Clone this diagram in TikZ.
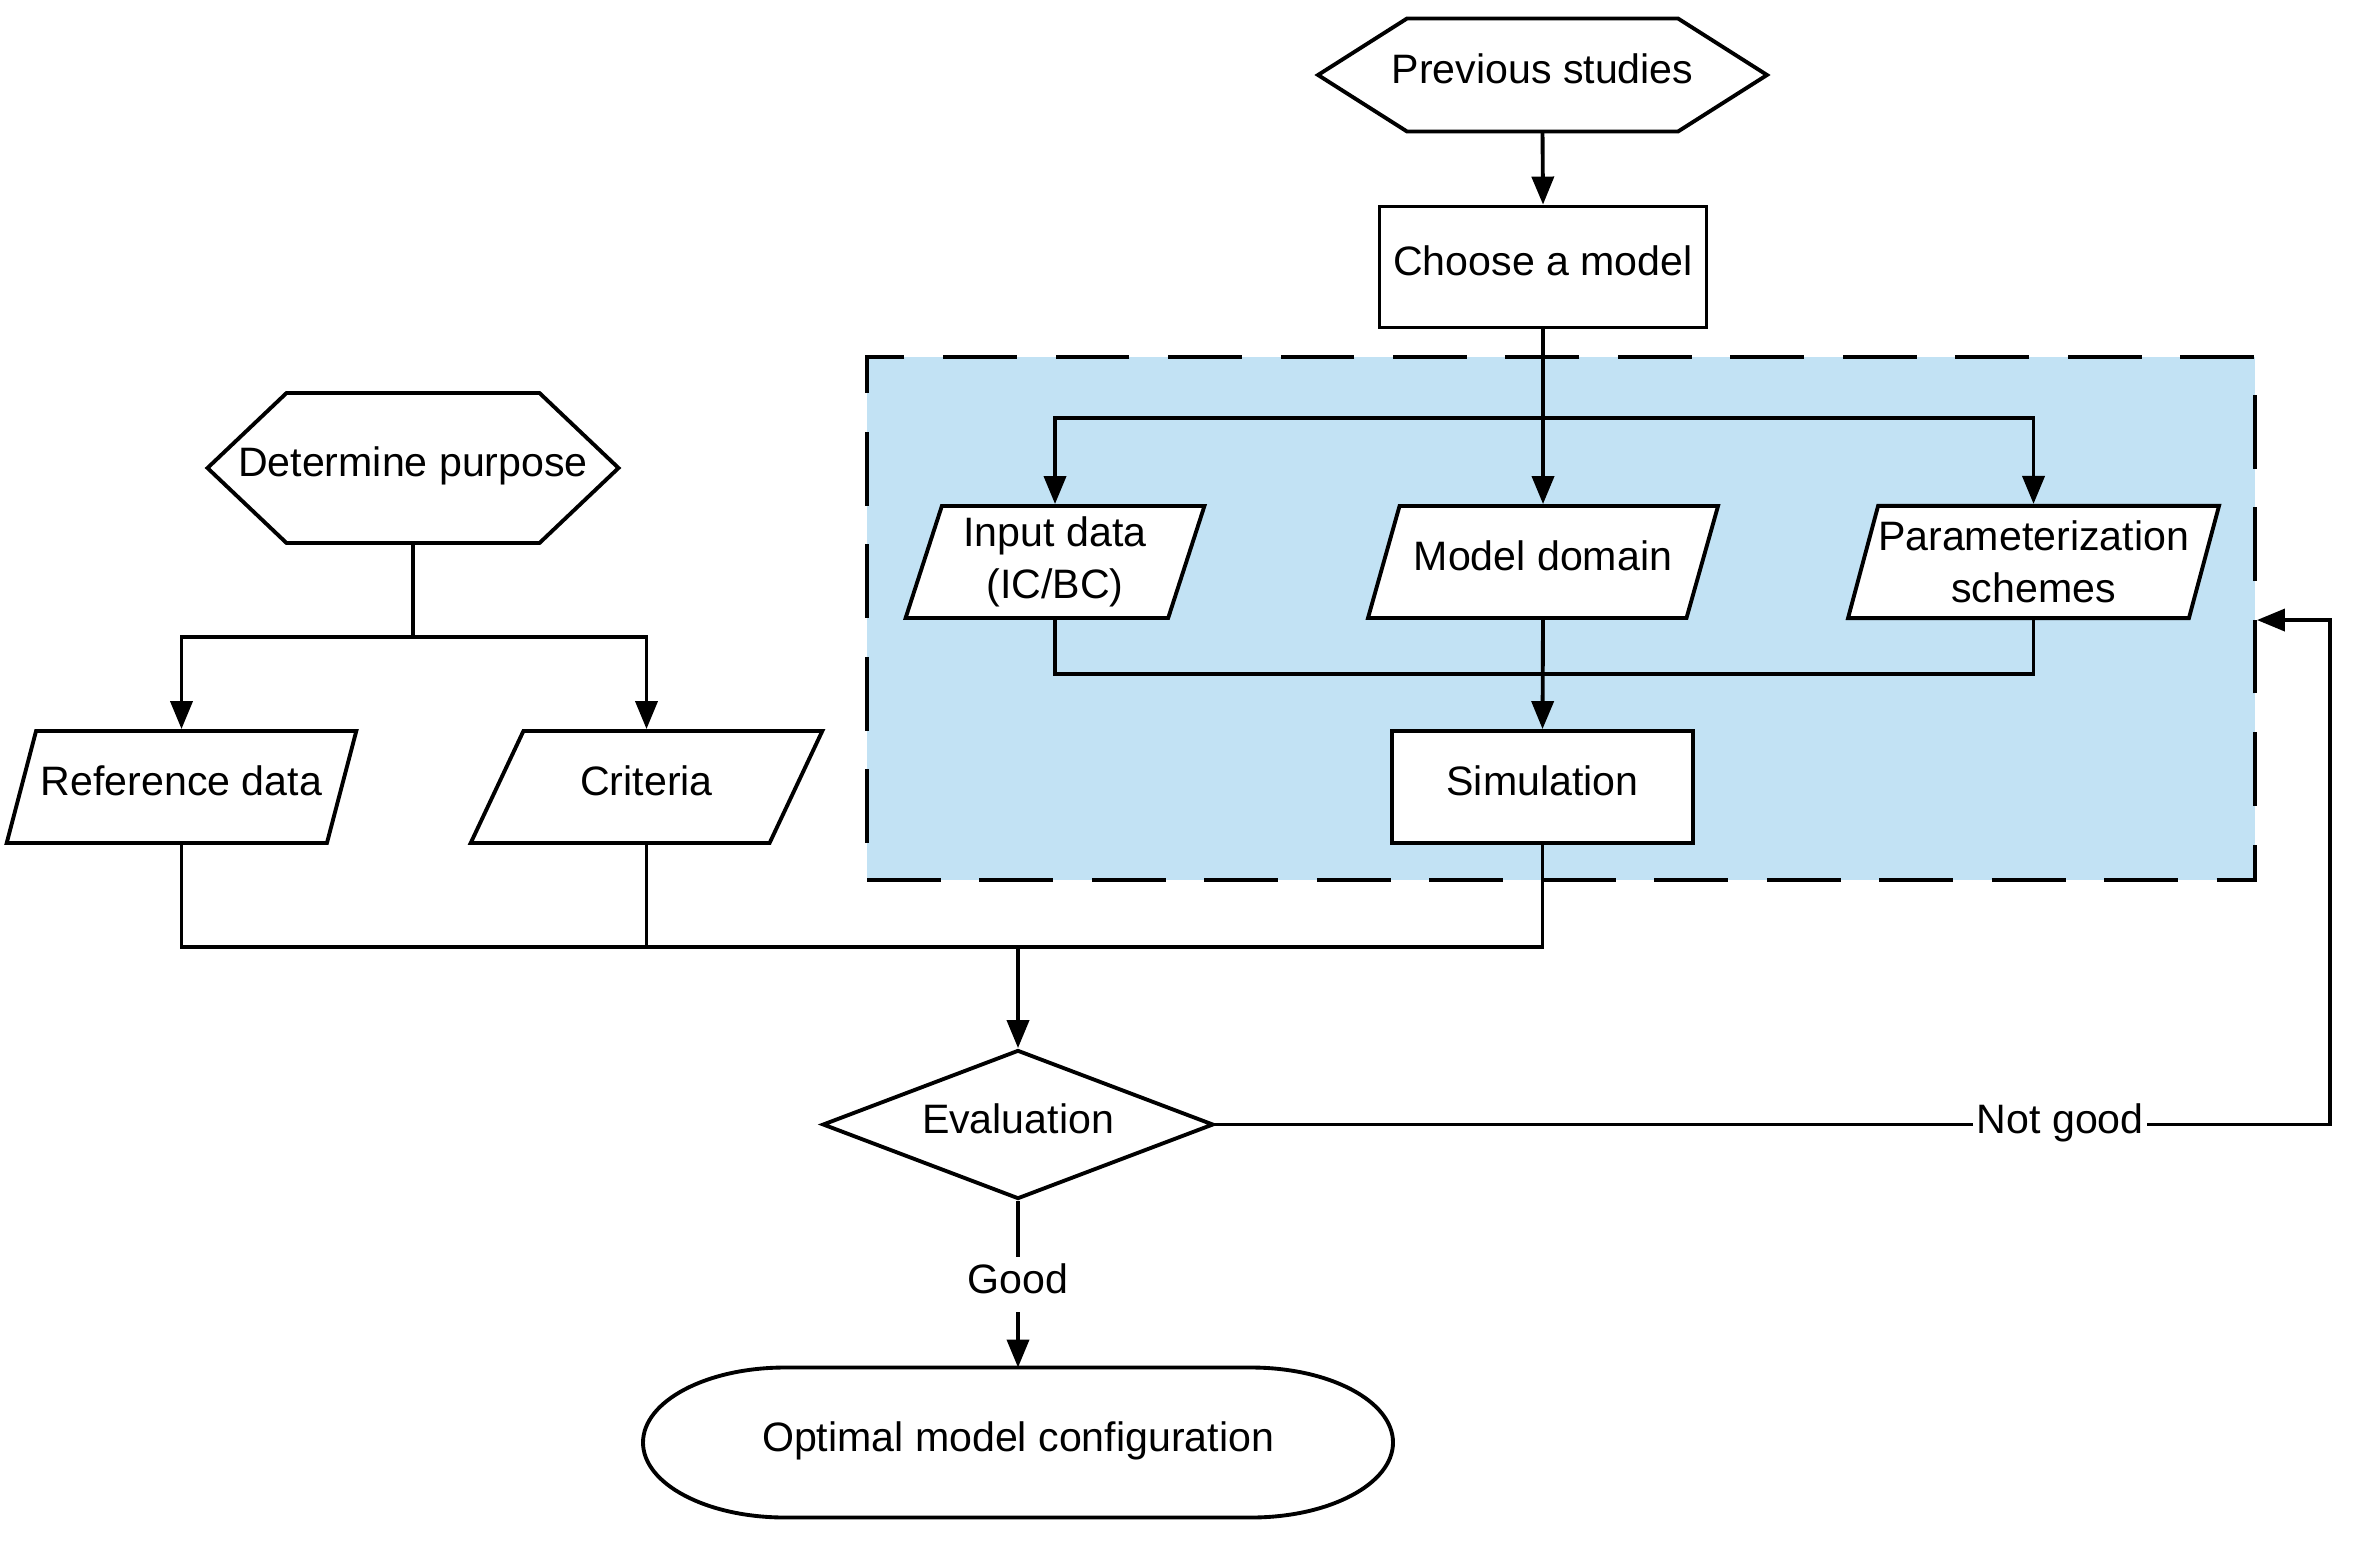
\documentclass[tikz,border=0pt]{standalone}
\usepackage{fontspec}
\setmainfont{Liberation Sans}
\usetikzlibrary{arrows.meta,shapes.geometric}
\definecolor{groupblue}{RGB}{194,226,244}

% flat-topped hexagon around the centre of a node:
% #1 node, #2 half width of the flat sides, #3 half height, #4 point depth
\newcommand\hexoutline[4]{%
  \draw[wire] ([shift={(-#2,#3)}]#1.center) -- ([shift={(#2,#3)}]#1.center)
    -- ([shift={(#2+#4,0pt)}]#1.center) -- ([shift={(#2,-#3)}]#1.center)
    -- ([shift={(-#2,-#3)}]#1.center) -- ([shift={(-#2-#4,0pt)}]#1.center) -- cycle;}

\begin{document}
\begin{tikzpicture}[x=0.1mm,y=-0.1mm,
  every node/.style={font=\fontsize{11.7}{14.8}\selectfont},
  wire/.style={line width=1.1pt},
  arr/.style={wire,-{Triangle[length=2.8mm,width=2.2mm]}},
  oneline/.style={text height=0.75em,text depth=0.25em},
  procbox/.style={wire,draw,rectangle,fill=white,inner sep=0pt,oneline},
  bodybox/.style={rectangle,inner sep=0pt,outer sep=0pt,oneline},
  iobox/.style={wire,draw,fill=white,trapezium,trapezium left angle=75,
    trapezium right angle=105,trapezium stretches=true,minimum height=11.2mm,
    inner xsep=0pt,inner ysep=1.5mm,align=center},
  iosingle/.style={iobox,oneline,inner ysep=3.54mm},
  groupbox/.style={wire,draw,fill=groupblue,dash pattern=on 21pt off 11pt,
    rectangle,inner sep=0pt},
  decision/.style={wire,draw,diamond,aspect=2.6,inner sep=0pt,oneline},
  lbl/.style={fill=white,inner xsep=1pt,inner ysep=1pt,oneline},
  goodlbl/.style={fill=white,inner xsep=1pt,inner ysep=2.8pt,oneline}]

\useasboundingbox (0,0) rectangle (2360,1546);

% model set-up group
\node[groupbox,minimum width=138.8mm,minimum height=52.3mm] (grp) at (1561,618.5) {};

% top chain
\node[bodybox,minimum height=11.3mm] (prev) at (1542.5,75) {Previous studies};
\hexoutline{prev}{13.55mm}{5.65mm}{8.9mm}
\node[procbox,minimum width=32.7mm,minimum height=12.1mm] (cam) at (1543,267) {Choose a model};

% model components
\node[iobox,minimum width=30mm,inner ysep=0.95mm] (in) at (1055,562) {Input data\\(IC/BC)};
\node[iosingle,minimum width=35.2mm] (md) at (1543,562) {Model domain};
\node[iobox,minimum width=36.9mm] (ps) at (2033.5,562) {Parameterization\\schemes};
\node[procbox,minimum width=30.1mm,minimum height=11.2mm] (sim) at (1542.5,787) {Simulation};

% purpose branch
\node[bodybox,minimum height=15mm] (dp) at (413,468) {Determine purpose};
\hexoutline{dp}{12.65mm}{7.5mm}{7.9mm}
\node[iosingle,minimum width=35.3mm] (ref) at (181.5,787) {Reference data};
\node[iosingle,minimum width=35.3mm] (crit) at (646.5,787) {Criteria};

% evaluation and result
\node[decision,minimum width=39.1mm,minimum height=14.9mm] (ev) at (1018,1124.5) {Evaluation};
\node[bodybox,minimum height=15mm] (opt) at (1018,1442.5) {Optimal model configuration};
\draw[wire] ([shift={(-23.3mm,7.5mm)}]opt.center) -- ([shift={(23.3mm,7.5mm)}]opt.center)
  arc[start angle=90,end angle=-90,x radius=14.2mm,y radius=7.5mm]
  -- ([shift={(-23.3mm,-7.5mm)}]opt.center)
  arc[start angle=270,end angle=90,x radius=14.2mm,y radius=7.5mm] -- cycle;

% junction points
\coordinate (tbus) at (1543,418);
\coordinate (mbus) at (1543,674);
\coordinate (lbus) at (413,637);
\coordinate (bbus) at (1018,947);
\coordinate (fb) at (2330,1124.5);

% connectors
\draw[arr] (prev.south) -- (cam.north);
\draw[arr] (cam.south) -- (md.center |- md.north);
\draw[arr] (tbus) -| (in.center |- in.north);
\draw[arr] (tbus) -| (ps.center |- ps.north);
\draw[wire] (in.center |- in.south) |- (mbus);
\draw[wire] (ps.center |- ps.south) |- (mbus);
\draw[arr] (md.center |- md.south) -- (sim.north);

\draw[wire] (dp.south) -- (lbus);
\draw[arr] (lbus) -| (ref.center |- ref.north);
\draw[arr] (lbus) -| (crit.center |- crit.north);

\draw[wire] (ref.center |- ref.south) |- (bbus);
\draw[wire] (crit.center |- crit.south) |- (bbus);
\draw[wire] (sim.south) |- (bbus);
\draw[arr] (bbus) -- (ev.north);

\draw[arr] (ev.south) -- node[goodlbl] {Good} (opt.north);
\draw[arr] (ev.east) -- node[pos=0.758,lbl] {Not good} (fb) |- (grp.east |- ps.south);

\end{tikzpicture}
\end{document}
